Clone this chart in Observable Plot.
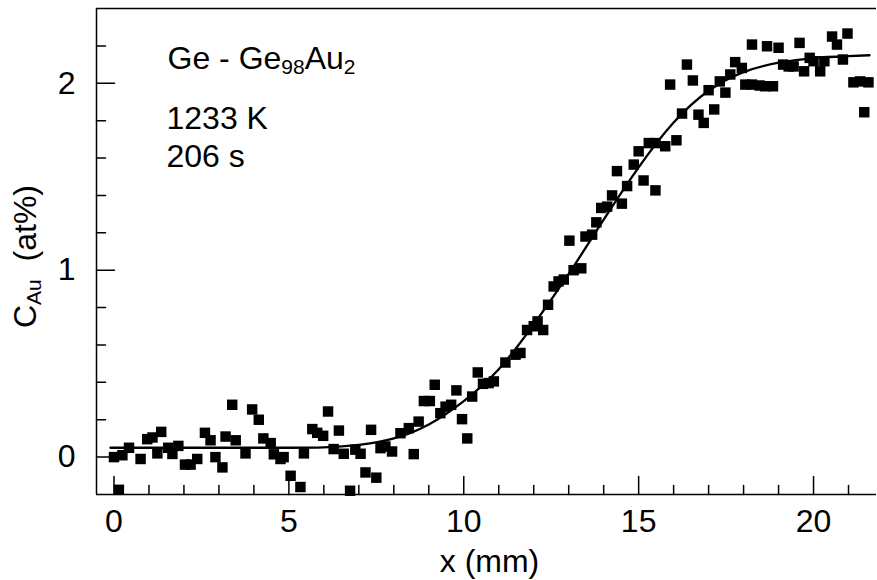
<!DOCTYPE html>
<html><head><meta charset="utf-8">
<script src="https://cdn.jsdelivr.net/npm/d3@7"></script>
<script src="https://cdn.jsdelivr.net/npm/@observablehq/plot@0.6"></script>
<style>body{margin:0;background:#fff} svg{display:block}</style>
</head><body><div id="chart"></div>
<script>
// measured concentration profile (x in mm, C_Au in at%)
const measX = [0.00,0.14,0.24,0.43,0.76,0.95,1.10,1.24,1.35,1.55,1.67,1.84,2.03,2.19,2.38,2.60,2.76,2.90,3.10,3.19,3.38,3.48,3.76,3.95,4.14,4.27,4.48,4.57,4.76,4.85,5.05,5.33,5.43,
  5.67,5.81,5.98,6.12,6.28,6.43,6.57,6.75,6.90,7.05,7.19,7.35,7.50,7.62,7.76,7.95,8.19,8.43,8.57,8.71,8.86,9.03,9.17,9.33,9.48,9.64,9.79,9.95,10.10,10.24,10.40,10.55,10.71,10.86,
  11.19,11.48,11.62,11.81,12.00,12.11,12.27,12.41,12.57,12.71,12.86,13.02,13.14,13.36,13.48,13.67,13.79,13.93,14.10,14.24,14.38,14.52,14.67,14.86,15.00,15.14,15.29,15.48,15.48,15.76,
  15.90,16.08,16.24,16.38,16.55,16.71,16.86,17.00,17.16,17.32,17.48,17.62,17.76,17.95,18.05,18.24,18.24,18.46,18.62,18.67,18.84,19.00,19.13,19.29,19.43,19.60,19.73,19.89,20.00,20.19,
  20.31,20.53,20.67,20.84,20.97,21.14,21.33,21.45,21.57];
const measY = [0.00,-0.175,0.01,0.05,-0.01,0.096,0.105,0.02,0.135,0.05,0.017,0.06,-0.04,-0.04,-0.01,0.13,0.09,0.00,-0.055,0.11,0.28,0.09,0.02,0.255,0.20,0.10,0.075,0.015,-0.01,0.00,-0.10,-0.16,0.02,
  0.15,0.13,0.114,0.244,0.043,0.142,0.018,-0.18,0.04,0.018,-0.082,0.146,-0.11,0.048,0.057,0.03,0.128,0.155,0.016,0.19,0.30,0.30,0.387,0.235,0.27,0.28,0.357,0.203,0.10,0.324,0.453,0.392,0.396,0.405,
  0.506,0.548,0.557,0.68,0.70,0.726,0.68,0.815,0.913,0.94,0.95,1.158,1.00,1.01,1.18,1.19,1.256,1.333,1.34,1.40,1.53,1.356,1.45,1.565,1.636,1.48,1.68,1.427,1.68,1.663,
  1.993,1.695,1.838,2.10,2.015,1.832,1.788,1.963,1.86,2.01,1.95,2.047,2.113,2.082,1.993,2.207,1.993,1.988,1.984,2.198,1.984,2.19,2.10,2.09,2.09,2.216,2.064,2.136,2.118,2.064,
  2.118,2.25,2.207,2.127,2.266,2.005,2.01,1.845,2.005];
// fitted curve
const fitX = [-0.1,1,2,3,4,5,6,7,8,9,10,11,12,13,14,15,16,17,18,19,20,21,21.6];
const fitY = [0.05,0.05,0.05,0.05,0.05,0.05,0.052,0.065,0.10,0.175,0.30,0.47,0.71,0.98,1.27,1.55,1.79,1.96,2.06,2.11,2.135,2.145,2.15];
// axes
const xDomain = [-0.5, 21.8];
const yDomain = [-0.2, 2.4];
const xTickMajor = [0,5,10,15,20];
const xTickMinor = [1,2,3,4,6,7,8,9,11,12,13,14,16,17,18,19,21];
const yTickMajor = [0,1,2];
const yTickMinor = [0.2,0.4,0.6,0.8,1.2,1.4,1.6,1.8,2.2];
const xLabel = "x (mm)";
const yLabelParts = [["C", false], ["Au", true], ["  (at%)", false]];
const titleParts = [["Ge - Ge", false], ["98", true], ["Au", false], ["2", true]];
const annotLines = ["1233 K", "206 s"];

const points = measX.map((x, i) => ({x, y: measY[i]}));
const fit = fitX.map((x, i) => ({x, y: fitY[i]}));
const tickShape = {draw(ctx, l) { ctx.moveTo(0, 0); ctx.lineTo(0, -l); }};
const FS = 32;
const titleText = titleParts.map(p => p[0]).join("");
const yLabelText = yLabelParts.map(p => p[0]).join("");

const svg = Plot.plot({
  width: 877, height: 580,
  marginLeft: 96, marginRight: 1, marginTop: 8, marginBottom: 86,
  style: {fontFamily: "'Liberation Sans', Arial, Helvetica, sans-serif", fontSize: FS + "px", background: "white", color: "black"},
  x: {domain: xDomain},
  y: {domain: yDomain},
  marks: [
    Plot.ruleY([yDomain[0], yDomain[1]], {stroke: "black", strokeWidth: 1.5}),
    Plot.ruleX([xDomain[0]], {stroke: "black", strokeWidth: 1.5}),
    Plot.vector(xTickMajor, {x: d => d, frameAnchor: "bottom", length: 18, rotate: 0, anchor: "start", shape: tickShape, stroke: "black", strokeWidth: 1.5}),
    Plot.vector(xTickMinor, {x: d => d, frameAnchor: "bottom", length: 9, rotate: 0, anchor: "start", shape: tickShape, stroke: "black", strokeWidth: 1.5}),
    Plot.vector(yTickMajor, {y: d => d, frameAnchor: "left", length: 18, rotate: 90, anchor: "start", shape: tickShape, stroke: "black", strokeWidth: 1.5}),
    Plot.vector(yTickMinor, {y: d => d, frameAnchor: "left", length: 9, rotate: 90, anchor: "start", shape: tickShape, stroke: "black", strokeWidth: 1.5}),
    Plot.axisX(xTickMajor, {tickSize: 0, tickPadding: 15, fontSize: FS, label: null, tickFormat: d3.format("d")}),
    Plot.axisY(yTickMajor, {tickSize: 0, tickPadding: 21, fontSize: FS, label: null, tickFormat: d3.format("d")}),
    Plot.line(fit, {x: "x", y: "y", curve: "natural", stroke: "black", strokeWidth: 2.3}),
    Plot.dot(points, {x: "x", y: "y", symbol: "square", r: 5.9, fill: "black", stroke: null}),
    Plot.text([titleText], {frameAnchor: "top-left", dx: 71, dy: 60, lineAnchor: "bottom", textAnchor: "start", fontSize: FS, text: d => d}),
    Plot.text([annotLines[0]], {frameAnchor: "top-left", dx: 70, dy: 120, lineAnchor: "bottom", textAnchor: "start", fontSize: FS, text: d => d}),
    Plot.text([annotLines[1]], {frameAnchor: "top-left", dx: 70, dy: 158, lineAnchor: "bottom", textAnchor: "start", fontSize: FS, text: d => d}),
    Plot.text([xLabel], {frameAnchor: "bottom", dx: 3, dy: 77, lineAnchor: "bottom", textAnchor: "middle", fontSize: FS, text: d => d}),
    Plot.text([yLabelText], {frameAnchor: "left", dx: -61, dy: 5, rotate: -90, lineAnchor: "bottom", textAnchor: "middle", fontSize: FS, text: d => d})
  ]
});

function fillParts(content, parts, subSize, shift) {
  d3.select(svg).selectAll("text").filter(function() { return this.textContent === content; }).each(function() {
    const t = d3.select(this);
    t.text(null);
    let sub = false;
    parts.forEach(([s, isSub]) => {
      const ts = t.append("tspan").text(s);
      if (isSub && !sub) ts.attr("dy", shift);
      if (!isSub && sub) ts.attr("dy", -shift);
      if (isSub) ts.attr("font-size", subSize);
      sub = isSub;
    });
  });
}
fillParts(titleText, titleParts, 21, 5);
fillParts(yLabelText, yLabelParts, 21, 5);
d3.select(svg).selectAll("text").style("white-space", "pre");
document.getElementById("chart").appendChild(svg);
</script>
</body></html>
